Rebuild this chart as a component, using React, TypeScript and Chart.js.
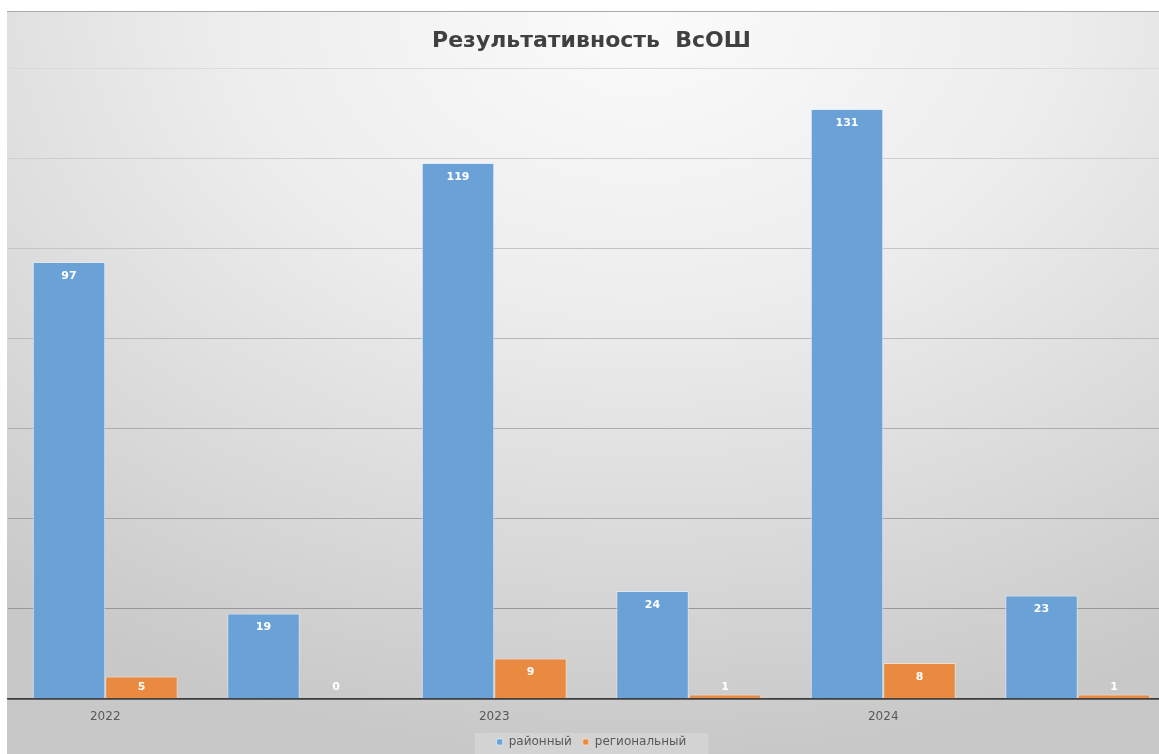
import React, { useEffect, useRef } from "react";
import { Chart, registerables } from "chart.js";

Chart.register(...registerables);

const categories = ["2022", "", "2023", "", "2024", ""];
const rayonValues = [97, 19, 119, 24, 131, 23];
const regionValues = [5, 0, 9, 1, 8, 1];
const seriesNames = ["районный", "региональный"];
const titleText = "Результативность  ВсОШ";
const yMax = 140;
const yStep = 20;

const FONT = "'DejaVu Sans', 'Open Sans', sans-serif";

function gridShade(v: number): string {
  if (v === 0) return "#3c3c3c";
  const t = v / yMax; // 0..1
  const g = Math.round(0x8c + t * (0xda - 0x8c));
  const h = g.toString(16).padStart(2, "0");
  return "#" + h + h + h;
}

const barValuesPlugin = {
  id: "barValues",
  afterDatasetsDraw(chart: any) {
    const ctx = chart.ctx;
    const base = chart.scales.y.getPixelForValue(0);
    ctx.save();
    ctx.font = "bold 11px " + FONT;
    ctx.fillStyle = "#ffffff";
    ctx.textAlign = "center";
    ctx.textBaseline = "middle";
    chart.data.datasets.forEach((ds: any, i: number) => {
      const meta = chart.getDatasetMeta(i);
      meta.data.forEach((bar: any, j: number) => {
        const v = ds.data[j];
        const y = Math.min(bar.y + 14, base - 12);
        ctx.fillText(String(v), bar.x, y);
      });
    });
    ctx.restore();
  },
};

const legendBgPlugin = {
  id: "legendBg",
  beforeDraw(chart: any) {
    const lg = chart.legend;
    if (!lg || !lg.legendHitBoxes || !lg.legendHitBoxes.length) return;
    const boxes = lg.legendHitBoxes;
    let l = Infinity, r = -Infinity, t = Infinity;
    boxes.forEach((h: any) => {
      l = Math.min(l, h.left);
      r = Math.max(r, h.left + h.width);
      t = Math.min(t, h.top);
    });
    const ctx = chart.ctx;
    ctx.save();
    ctx.fillStyle = "rgba(255,255,255,0.2)";
    ctx.fillRect(l - 22, t - 3, r - l + 44, chart.height - t + 3);
    ctx.restore();
  },
};

export default function App() {
  const ref = useRef<HTMLCanvasElement | null>(null);

  useEffect(() => {
    if (!ref.current) return;
    const chart = new Chart(ref.current, {
      type: "bar",
      data: {
        labels: categories,
        datasets: [
          {
            label: seriesNames[0],
            data: rayonValues,
            backgroundColor: "#6aa1d7",
            borderColor: "rgba(220,235,250,0.8)",
            borderWidth: 1,
            categoryPercentage: 0.745,
            barPercentage: 1,
          },
          {
            label: seriesNames[1],
            data: regionValues,
            backgroundColor: "#ea8940",
            borderColor: "rgba(250,225,200,0.8)",
            borderWidth: 1,
            categoryPercentage: 0.745,
            barPercentage: 1,
          },
        ],
      },
      options: {
        animation: false,
        responsive: false,
        maintainAspectRatio: false,
        layout: { padding: { left: 1, right: 2, top: 0, bottom: -4 } },
        plugins: {
          title: {
            display: true,
            text: titleText,
            color: "#404040",
            font: { family: FONT, size: 22, weight: "bold" },
            padding: { top: 16, bottom: 14 },
          },
          legend: {
            position: "bottom",
            labels: {
              color: "#595959",
              font: { family: FONT, size: 12 },
              boxWidth: 6,
              boxHeight: 6,
              padding: 11,
            },
          },
          tooltip: { enabled: false },
        },
        scales: {
          x: {
            grid: { display: false, drawTicks: false },
            border: { display: true, color: "#3c3c3c", width: 1.5 },
            ticks: {
              color: "#595959",
              font: { family: FONT, size: 12 },
              autoSkip: false,
              maxRotation: 0,
              padding: 11,
            },
            afterFit: (scale: any) => {
              scale.height = 26;
            },
          },
          y: {
            min: 0,
            max: yMax,
            ticks: { display: false, stepSize: yStep },
            border: { display: false },
            grid: {
              drawTicks: false,
              color: (c: any) => gridShade(c.tick ? c.tick.value : 0),
              lineWidth: (c: any) => (c.tick && c.tick.value === 0 ? 1.5 : 1),
            },
          },
        },
      },
      plugins: [barValuesPlugin, legendBgPlugin],
    });
    return () => chart.destroy();
  }, []);

  return (
    <div
      style={{
        position: "fixed",
        left: 7,
        top: 11,
        right: 0,
        bottom: 0,
        overflow: "hidden",
        borderTop: "1px solid #a8a8a8",
        background:
          "radial-gradient(ellipse 90% 100% at 55% 0%, #fbfbfb 0%, #ededed 40%, #d8d8d8 75%, #c8c8c8 100%)",
      }}
    >
      <canvas ref={ref} width={1170} height={742} style={{ display: "block" }} />
    </div>
  );
}
